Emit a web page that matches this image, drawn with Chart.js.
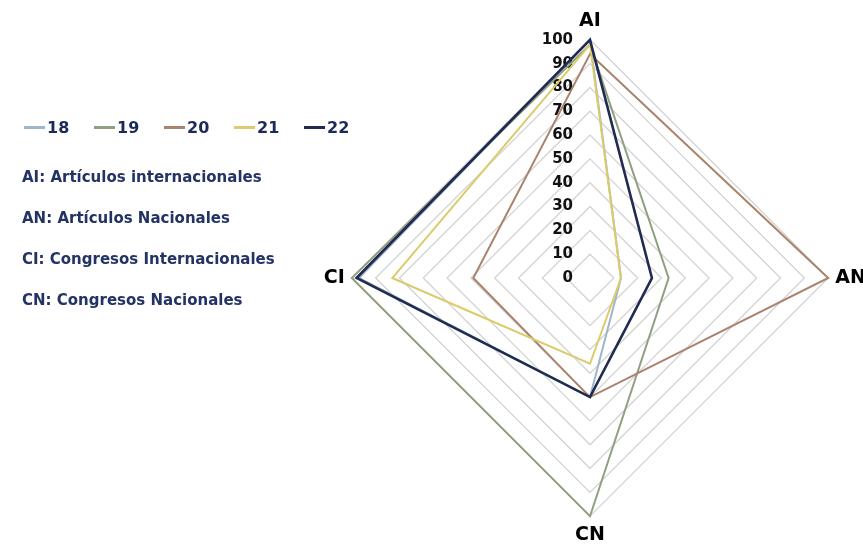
<!DOCTYPE html>
<html>
<head>
<meta charset="utf-8">
<script src="https://cdn.jsdelivr.net/npm/chart.js@4.4.0/dist/chart.umd.min.js"></script>
<style>
  body { margin: 0; background: #fff; width: 863px; height: 547px; overflow: hidden; position: relative; font-family: 'DejaVu Sans', sans-serif; }
  #wrap { position: absolute; left: 0; top: 0; width: 880px; height: 547px; }
  .leg { position: absolute; top: 118px; height: 18px; display: flex; align-items: center; font-weight: bold; font-size: 16px; color: #1c2a55; }
  .leg i { display: inline-block; width: 21px; height: 3px; margin-right: 2px; }
  .note { position: absolute; left: 22px; font-weight: bold; font-size: 15px; color: #233363; white-space: nowrap; }
</style>
</head>
<body>
<div id="wrap"><canvas id="radar"></canvas></div>
<div id="legend"></div>
<div id="notes"></div>
<script>
// categories (clockwise from top)
const axisLabels = ['AI', 'AN', 'CN', 'CI'];
const seriesNames = ['18', '19', '20', '21', '22'];
const seriesColors = ['#9fb5ca', '#909f7f', '#a9836b', '#dccb6b', '#1f2b50'];

// values
const s18 = [100, 13, 50, 97];
const s19 = [98, 33, 100, 100];
const s20 = [94, 100, 50, 49];
const s21 = [98, 13, 36, 83];
const s22 = [100, 26, 50, 98];
const allSeries = [s18, s19, s20, s21, s22];

const tickValues = [0, 10, 20, 30, 40, 50, 60, 70, 80, 90, 100];

const notes = [
    'AI: Artículos internacionales',
    'AN: Artículos Nacionales',
    'CI: Congresos Internacionales',
    'CN: Congresos Nacionales'
];

// legend + notes on the left
const legendBox = document.getElementById('legend');
seriesNames.forEach((name, i) => {
    const d = document.createElement('div');
    d.className = 'leg';
    d.style.left = (24 + i * 70) + 'px';
    d.innerHTML = '<i style="background:' + seriesColors[i] + '"></i>' + name;
    legendBox.appendChild(d);
});
const notesBox = document.getElementById('notes');
notes.forEach((t, i) => {
    const d = document.createElement('div');
    d.className = 'note';
    d.style.top = (168 + i * 41) + 'px';
    d.textContent = t;
    notesBox.appendChild(d);
});

// tick numbers sit left of the vertical axis, like the original
const sideTicks = {
    id: 'sideTicks',
    beforeDatasetsDraw(chart) {
        const s = chart.scales.r;
        const ctx = chart.ctx;
        ctx.save();
        ctx.font = 'bold 15px "DejaVu Sans"';
        ctx.fillStyle = '#111';
        ctx.textAlign = 'right';
        ctx.textBaseline = 'middle';
        tickValues.forEach(v => {
            ctx.fillText(String(v), s.xCenter - 17, s.yCenter - s.getDistanceFromCenterForValue(v));
        });
        ctx.restore();
    }
};

new Chart(document.getElementById('radar'), {
    type: 'radar',
    data: {
        labels: axisLabels,
        datasets: allSeries.map((vals, i) => ({
            label: seriesNames[i],
            data: vals,
            borderColor: seriesColors[i],
            borderWidth: i === 4 ? 2.6 : 2,
            fill: false,
            pointRadius: 0,
            tension: 0,
            order: allSeries.length - i
        }))
    },
    options: {
        responsive: true,
        maintainAspectRatio: false,
        animation: false,
        layout: { padding: { left: 310, right: 0, top: 10, bottom: 0 } },
        plugins: { legend: { display: false }, tooltip: { enabled: false } },
        scales: {
            r: {
                min: 0,
                max: 100,
                ticks: { stepSize: 10, display: false },
                grid: { color: '#d3d3d3', lineWidth: 1.3 },
                angleLines: { display: false },
                pointLabels: {
                    padding: 7,
                    color: '#000',
                    font: { family: 'DejaVu Sans', size: 19, weight: 'bold' }
                }
            }
        }
    },
    plugins: [sideTicks]
});
</script>
</body>
</html>
